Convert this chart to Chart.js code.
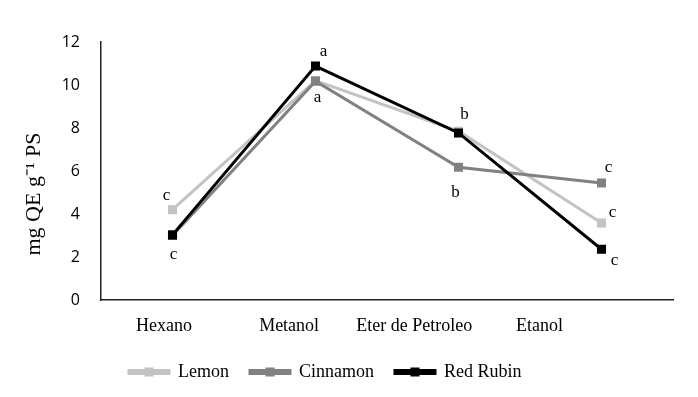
<!DOCTYPE html>
<html>
<head>
<meta charset="utf-8">
<script src="https://cdn.jsdelivr.net/npm/chart.js@4"></script>
<style>
html,body{margin:0;padding:0;background:#fff;}
#wrap{width:698px;height:397px;position:relative;}
</style>
</head>
<body>
<div id="wrap"><canvas id="c" width="698" height="397"></canvas></div>
<script>
const categories = ["Hexano", "Metanol", "Eter de Petroleo", "Etanol"];
const seriesNames = ["Lemon", "Cinnamon", "Red Rubin"];
const lemon = [4.2, 10.2, 7.85, 3.58];
const cinnamon = [3.0, 10.18, 6.17, 5.44];
const redRubin = [3.03, 10.88, 7.77, 2.36];
const yTicks = [0, 2, 4, 6, 8, 10, 12];
const yTitle = "mg QE g\u207B\u00B9 PS";
// significance letters: [seriesIndex, categoryIndex, letter]
const letters = [
  [0, 0, "c"], [2, 0, "c"],
  [2, 1, "a"], [1, 1, "a"],
  [2, 2, "b"], [1, 2, "b"],
  [1, 3, "c"], [0, 3, "c"], [2, 3, "c"]
];
// label offsets (style only)
const letterOffsets = [
  [-6, -14], [1, 20],
  [8, -15], [2, 16],
  [6, -18], [-3, 25],
  [7, -16], [11, -10], [13, 11]
];
const colors = ["#c3c3c3", "#818181", "#000000"];
const values = [lemon, cinnamon, redRubin];

const letterPlugin = {
  id: 'letters',
  afterDatasetsDraw(chart) {
    const ctx = chart.ctx;
    const xs = chart.scales.x, ys = chart.scales.y;
    ctx.save();
    ctx.font = '17px "Liberation Serif"';
    ctx.fillStyle = '#000';
    ctx.textAlign = 'center';
    ctx.textBaseline = 'middle';
    letters.forEach((l, i) => {
      const px = xs.getPixelForValue(l[1]);
      const py = ys.getPixelForValue(values[l[0]][l[1]]);
      ctx.fillText(l[2], px + letterOffsets[i][0], py + letterOffsets[i][1]);
    });
    // y axis title (offset below axis centre as in the reference)
    ctx.save();
    ctx.translate(34, (chart.chartArea.top + chart.chartArea.bottom) / 2 + 23);
    ctx.rotate(-Math.PI / 2);
    ctx.font = '22px "Liberation Serif"';
    ctx.fillText(yTitle, 0, 0);
    ctx.restore();
    ctx.restore();
  }
};
const legendMarker = {
  id: 'legendMarker',
  afterUpdate(chart) {
    const lg = chart.legend;
    if (!lg) return;
    const newLeft = 129 - lg.options.labels.padding;
    const d = newLeft - lg.left;
    lg.left = newLeft;
    lg.legendHitBoxes.forEach(h => { h.left += d; });
  },
  afterDraw(chart) {
    const lg = chart.legend;
    if (!lg || !lg.legendHitBoxes) return;
    const ctx = chart.ctx;
    ctx.save();
    lg.legendItems.forEach((item, i) => {
      const hb = lg.legendHitBoxes[i];
      const cx = hb.left + 20;
      const cy = hb.top + hb.height / 2;
      ctx.fillStyle = colors[item.datasetIndex];
      ctx.fillRect(cx - 4.5, cy - 4.5, 9, 9);
    });
    ctx.restore();
  }
};

new Chart(document.getElementById('c'), {
  type: 'line',
  data: {
    labels: categories,
    datasets: values.map((v, i) => ({
      label: seriesNames[i],
      data: v,
      borderColor: colors[i],
      backgroundColor: colors[i],
      borderWidth: 3,
      pointStyle: 'rect',
      pointRadius: 6.4,
      pointBorderWidth: 0,
      pointBackgroundColor: colors[i],
      tension: 0,
      order: 2 - i
    }))
  },
  options: {
    responsive: false,
    animation: false,
    devicePixelRatio: 1,
    layout: { padding: { top: 42, right: 25, left: 22, bottom: 6 } },
    plugins: {
      tooltip: { enabled: false },
      legend: {
        position: 'bottom',
        align: 'start',
        labels: {
          boxWidth: 40,
          boxHeight: 3,
          padding: 21,
          color: '#000',
          font: { family: '"Liberation Serif"', size: 18 },
          sort: (a, b) => a.datasetIndex - b.datasetIndex
        }
      }
    },
    scales: {
      x: {
        offset: true,
        weight: 0,
        grid: { display: false, drawTicks: false },
        border: { display: true, color: '#222', width: 1.5 },
        ticks: { display: false },
        afterFit: (s) => { s.height = 0; }
      },
      xl: {
        type: 'linear',
        position: 'bottom',
        weight: 1,
        min: -0.503, max: 4.067,
        afterBuildTicks: (s) => { s.ticks = categories.map((c, i) => ({ value: i })); },
        grid: { display: false, drawTicks: false },
        border: { display: false },
        ticks: { color: '#000', font: { family: '"Liberation Serif"', size: 18 }, padding: 15, maxRotation: 0, autoSkip: false,
          callback: (v) => categories[v] },
        afterFit: (s) => { s.height = 42; }
      },
      y: {
        min: 0, max: 12,
        afterBuildTicks: (s) => { s.ticks = yTicks.map(v => ({ value: v })); },
        grid: { display: false, drawTicks: false },
        border: { display: true, color: '#222', width: 1.5 },
        ticks: { color: '#000', font: { family: '"Open Sans"', size: 16 }, padding: 21 },
        title: { display: false },
        afterFit: (s) => { s.width = 79; }
      }
    }
  },
  plugins: [letterPlugin, legendMarker]
});
</script>
</body>
</html>
